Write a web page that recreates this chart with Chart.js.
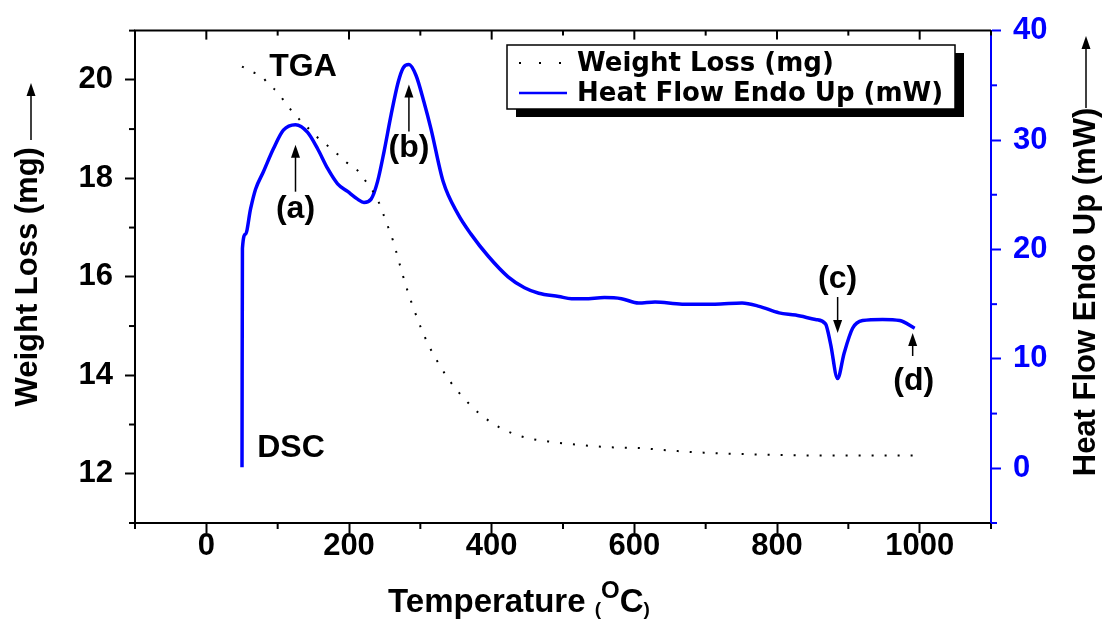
<!DOCTYPE html>
<html>
<head>
<meta charset="utf-8">
<script src="https://cdn.jsdelivr.net/npm/chart.js@4.4.1/dist/chart.umd.min.js"></script>
<style>
  body { margin: 0; background: #fff; }
  #wrap { width: 1105px; height: 619px; }
</style>
</head>
<body>
<div id="wrap"><canvas id="tgaChart" width="1105" height="619"></canvas></div>
<script>
// TGA curve (weight, left axis)
const tgaTemp = [50, 63, 79, 87, 100, 108, 118, 128, 136, 146, 158, 172, 184, 196, 210, 221,
  240, 252, 262, 270, 280, 290, 301, 312, 326, 343, 360, 383, 411, 446, 488, 512, 564, 610,
  634, 695, 779, 878, 993];
const tgaWeight = [20.27, 20.17, 20.05, 19.91, 19.75, 19.59, 19.40, 19.24, 19.10, 18.98, 18.80,
  18.64, 18.49, 18.33, 18.19, 17.99, 17.57, 17.12, 16.72, 16.31, 15.81, 15.38, 14.96, 14.60,
  14.23, 13.85, 13.55, 13.22, 12.94, 12.74, 12.64, 12.60, 12.54, 12.52, 12.49, 12.43, 12.39,
  12.37, 12.37];

// DSC curve (heat flow, right axis)
const dscTemp = [50, 50.6, 55, 62, 69, 80, 94, 108, 125, 142, 156, 170, 184, 198, 212, 221,
  231, 240, 249, 259, 269, 276, 284, 294, 305, 315, 332, 353, 371, 395, 423, 446, 466, 494,
  512, 530, 558, 582, 606, 629, 667, 713, 751, 775, 803, 826, 854, 868, 875, 885, 894, 906,
  920, 948, 972, 993];
const dscHeat = [0.1, 20.1, 21.4, 23.7, 25.5, 27.1, 29.2, 30.9, 31.4, 30.7, 29.2, 27.4, 26.0,
  25.3, 24.6, 24.3, 24.6, 26.2, 28.9, 32.3, 35.3, 36.6, 36.9, 35.9, 33.5, 31.0, 26.2, 23.2,
  21.4, 19.4, 17.5, 16.5, 16.0, 15.7, 15.5, 15.5, 15.6, 15.5, 15.1, 15.2, 15.0, 15.0, 15.1,
  14.8, 14.2, 14.0, 13.6, 13.2, 11.4, 8.2, 10.5, 12.8, 13.5, 13.6, 13.5, 12.8];

// tick values
const xMajorTicks = [0, 200, 400, 600, 800, 1000];
const xMinorTicks = [-100, 100, 300, 500, 700, 900, 1100];
const yMajorTicks = [12, 14, 16, 18, 20];
const yMinorTicks = [11, 13, 15, 17, 19, 21];
const y2MajorTicks = [0, 10, 20, 30, 40];
const y2MinorTicks = [-5, 5, 15, 25, 35];

// peak labels: text, temperature, heat flow
const peakNotes = [
  ['(a)', 125, 31.4],
  ['(b)', 284, 36.9],
  ['(c)', 885, 8.2],
  ['(d)', 993, 12.8],
];

const BLUE = '#0000ff';
const tickFont = { family: 'Liberation Sans, Arial, sans-serif', size: 31, weight: 'bold' };
const titleFamily = '"Liberation Sans Narrow", "Liberation Sans", Arial, sans-serif';

function toPoints(xs, ys) {
  return xs.map((v, i) => ({ x: v, y: ys[i] }));
}

function arrow(ctx, x, yFrom, yTo) {
  const dir = yTo < yFrom ? 1 : -1;
  ctx.beginPath();
  ctx.moveTo(x, yFrom);
  ctx.lineTo(x, yTo + dir * 10);
  ctx.stroke();
  ctx.beginPath();
  ctx.moveTo(x, yTo);
  ctx.lineTo(x - 4.5, yTo + dir * 13);
  ctx.lineTo(x + 4.5, yTo + dir * 13);
  ctx.closePath();
  ctx.fill();
}

const frameTicks = {
  id: 'frameTicks',
  afterDraw(chart) {
    const { ctx, chartArea: { top, bottom, left, right }, scales: { x, y, y2 } } = chart;
    ctx.save();
    ctx.lineWidth = 2;
    ctx.strokeStyle = '#000';
    ctx.beginPath();
    ctx.moveTo(left - 1, top);
    ctx.lineTo(right, top);
    ctx.stroke();

    const seg = (x1, y1, x2, y2b) => {
      ctx.beginPath();
      ctx.moveTo(x1, y1);
      ctx.lineTo(x2, y2b);
      ctx.stroke();
    };
    xMajorTicks.forEach((v) => {
      const px = x.getPixelForValue(v);
      seg(px, top, px, top + 9);
    });
    xMinorTicks.forEach((v) => {
      const px = x.getPixelForValue(v);
      seg(px, bottom, px, bottom + 6);
      seg(px, top, px, top + 5);
    });
    yMinorTicks.forEach((v) => {
      const py = y.getPixelForValue(v);
      seg(left, py, left - 6, py);
    });
    ctx.strokeStyle = BLUE;
    y2MinorTicks.forEach((v) => {
      const py = y2.getPixelForValue(v);
      seg(right, py, right + 6, py);
    });
    ctx.restore();
  },
};

const notes = {
  id: 'notes',
  afterDraw(chart) {
    const { ctx, scales: { x, y2 } } = chart;
    ctx.save();
    ctx.fillStyle = '#000';
    ctx.strokeStyle = '#000';
    ctx.lineWidth = 1.5;
    ctx.font = 'bold 32px "Liberation Sans", Arial, sans-serif';
    ctx.textAlign = 'center';
    ctx.textBaseline = 'middle';
    ctx.fillText('TGA', 303, 67);
    ctx.fillText('DSC', 291, 448);

    // peak arrows placed from the peak positions
    const pa = peakNotes.map(([t, tx, hy]) => ({ t, px: x.getPixelForValue(tx), py: y2.getPixelForValue(hy) }));
    // (a) and (b): arrow up under the peak
    [pa[0], pa[1]].forEach((p) => {
      arrow(ctx, p.px, p.py + 67, p.py + 20);
      ctx.fillText(p.t, p.px, p.py + 84);
    });
    // (c): arrow down above the dip
    arrow(ctx, pa[2].px, 297, 333);
    ctx.fillText(pa[2].t, pa[2].px, 279);
    // (d): arrow up under the end point
    arrow(ctx, pa[3].px - 2, 356, 333);
    ctx.fillText(pa[3].t, pa[3].px - 1, 381);

    // axis title arrows
    arrow(ctx, 31, 140, 83);
    arrow(ctx, 1086, 108, 36);

    // right axis title, reading bottom to top
    ctx.save();
    ctx.translate(1086, 292);
    ctx.rotate(-Math.PI / 2);
    ctx.font = 'bold 31px ' + titleFamily;
    ctx.fillText('Heat Flow Endo Up (mW)', 0, 0);
    ctx.restore();

    // x axis title with superscript
    ctx.textAlign = 'left';
    ctx.textBaseline = 'alphabetic';
    const base = 612;
    const big = 'bold 33px ' + titleFamily;
    const small = 'bold 19px ' + titleFamily;
    const sup = 'bold 24px ' + titleFamily;
    const parts = [['Temperature ', big, 0], ['(', small, 3], ['O', sup, -14], ['C', big, 0], [')', small, 3]];
    let total = 0;
    parts.forEach(([s, f]) => { ctx.font = f; total += ctx.measureText(s).width; });
    let cx = 519 - total / 2;
    parts.forEach(([s, f, dy]) => {
      ctx.font = f;
      ctx.fillText(s, cx, base + dy);
      cx += ctx.measureText(s).width;
    });
    ctx.restore();
  },
};

const boxLegend = {
  id: 'boxLegend',
  afterDraw(chart) {
    const { ctx } = chart;
    const sets = chart.data.datasets;
    const bx = 507, by = 45, bw = 448, bh = 64;
    ctx.save();
    ctx.fillStyle = '#000';
    ctx.fillRect(bx + 9, by + 8, bw, bh);
    ctx.fillStyle = '#fff';
    ctx.fillRect(bx, by, bw, bh);
    ctx.strokeStyle = '#000';
    ctx.lineWidth = 1.5;
    ctx.strokeRect(bx, by, bw, bh);

    ctx.font = 'bold 26px "DejaVu Sans", sans-serif';
    ctx.textBaseline = 'middle';
    ctx.textAlign = 'left';
    sets.forEach((ds, i) => {
      const ly = by + 18 + i * 30;
      ctx.strokeStyle = ds.borderColor;
      ctx.lineWidth = i === 0 ? 2 : 2.5;
      ctx.setLineDash(i === 0 ? [2, 18] : []);
      ctx.beginPath();
      ctx.moveTo(519, ly);
      ctx.lineTo(567, ly);
      ctx.stroke();
      ctx.setLineDash([]);
      ctx.fillStyle = '#000';
      ctx.fillText(ds.label, 577, ly + 1);
    });
    ctx.restore();
  },
};

const data = {
  datasets: [
    {
      label: 'Weight Loss (mg)',
      data: toPoints(tgaTemp, tgaWeight),
      yAxisID: 'y',
      borderColor: '#000',
      borderWidth: 2,
      borderDash: [2, 11],
      pointRadius: 0,
      cubicInterpolationMode: 'monotone',
    },
    {
      label: 'Heat Flow Endo Up (mW)',
      data: toPoints(dscTemp, dscHeat),
      yAxisID: 'y2',
      borderColor: BLUE,
      borderWidth: 3.5,
      pointRadius: 0,
      cubicInterpolationMode: 'monotone',
    },
  ],
};

const config = {
  type: 'line',
  data: data,
  options: {
    responsive: false,
    animation: false,
    layout: { padding: { top: 28, left: 0, right: 0, bottom: 0 } },
    plugins: { legend: { display: false }, tooltip: { enabled: false } },
    scales: {
      x: {
        type: 'linear',
        position: 'bottom',
        min: -100,
        max: 1100,
        afterBuildTicks: (s) => { s.ticks = xMajorTicks.map((v) => ({ value: v })); },
        afterFit: (s) => { s.height = 96; },
        ticks: { color: '#000', font: tickFont, padding: -5, maxRotation: 0, callback: (v) => String(v) },
        grid: { drawOnChartArea: false, drawTicks: true, tickLength: 10, tickWidth: 2, tickColor: '#000' },
        border: { color: '#000', width: 2 },
      },
      y: {
        type: 'linear',
        position: 'left',
        min: 11,
        max: 21,
        afterBuildTicks: (s) => { s.ticks = yMajorTicks.map((v) => ({ value: v })); },
        afterFit: (s) => { s.width = 135; },
        ticks: { color: '#000', font: tickFont, padding: 12 },
        grid: { drawOnChartArea: false, drawTicks: true, tickLength: 10, tickWidth: 2, tickColor: '#000' },
        border: { color: '#000', width: 2 },
        title: {
          display: true,
          text: 'Weight Loss (mg)',
          color: '#000',
          font: { family: titleFamily, size: 31, weight: 'bold' },
          padding: { top: 10, bottom: 0 },
        },
      },
      y2: {
        type: 'linear',
        position: 'right',
        min: -5,
        max: 40,
        afterBuildTicks: (s) => { s.ticks = y2MajorTicks.map((v) => ({ value: v })); },
        afterFit: (s) => { s.width = 114; },
        ticks: { color: BLUE, font: tickFont, padding: 12 },
        grid: { drawOnChartArea: false, drawTicks: true, tickLength: 10, tickWidth: 2, tickColor: BLUE },
        border: { color: BLUE, width: 2 },
      },
    },
  },
  plugins: [frameTicks, notes, boxLegend],
};

const myChart = new Chart(document.getElementById('tgaChart'), config);
</script>
</body>
</html>
